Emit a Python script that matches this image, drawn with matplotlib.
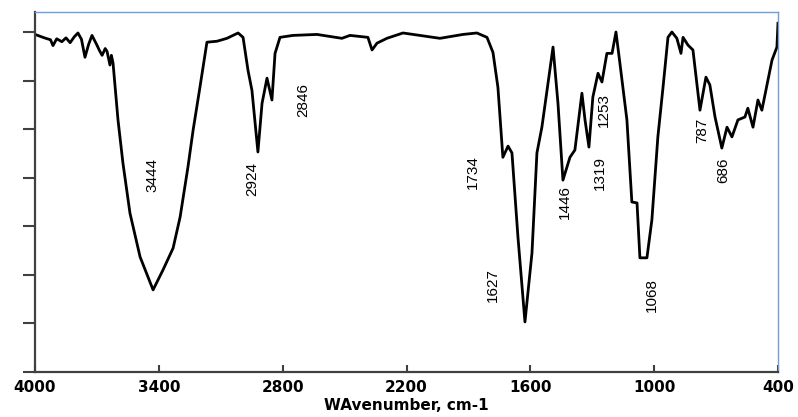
import numpy as np
import matplotlib
matplotlib.use("Agg")
import matplotlib.pyplot as plt

# IR spectrum (wavenumber, cm-1 / transmittance in axis units)
wavenumber = [4000, 3955, 3925, 3913, 3895, 3870, 3850, 3830, 3810, 3792, 3775,
              3758, 3740, 3724, 3700, 3688, 3675, 3660, 3651, 3637, 3630, 3622,
              3598, 3574, 3540, 3491, 3428, 3380, 3331, 3297, 3259, 3234, 3201,
              3167, 3118, 3070, 3016, 2992, 2968, 2949, 2920, 2900, 2876, 2852,
              2837, 2813, 2750, 2634, 2513, 2474, 2387, 2367, 2355, 2343, 2295, 2217,
              2038, 1926, 1859, 1810, 1781, 1757, 1733, 1708, 1689, 1660, 1626,
              1592, 1568, 1544, 1519, 1490, 1466, 1442, 1408, 1384, 1350, 1335,
              1316, 1297, 1272, 1253, 1229, 1204, 1185, 1166, 1132, 1108, 1083,
              1069, 1035, 1011, 982, 957, 933, 914, 890, 870, 860, 836, 812, 778,
              749, 730, 705, 672, 647, 623, 594, 560, 546, 521, 497, 478, 429,
              405, 400]
transmittance = [6.95, 6.88, 6.84, 6.72, 6.86, 6.80, 6.88, 6.78, 6.90, 6.98, 6.85,
                 6.48, 6.75, 6.93, 6.73, 6.62, 6.52, 6.66, 6.60, 6.32, 6.52, 6.36,
                 5.19, 4.30, 3.27, 2.37, 1.69, 2.10, 2.55, 3.19, 4.22, 4.98, 5.86,
                 6.79, 6.81, 6.87, 6.98, 6.89, 6.21, 5.80, 4.53, 5.53, 6.05, 5.60,
                 6.56, 6.89, 6.93, 6.95, 6.87, 6.93, 6.89, 6.63, 6.70, 6.77, 6.87, 6.98,
                 6.87, 6.95, 6.98, 6.89, 6.58, 5.86, 4.42, 4.65, 4.51, 2.78, 1.03,
                 2.45, 4.51, 5.04, 5.80, 6.69, 5.53, 3.95, 4.42, 4.57, 5.74, 5.19,
                 4.63, 5.66, 6.15, 5.97, 6.56, 6.56, 7.00, 6.36, 5.19, 3.50, 3.48,
                 2.35, 2.35, 3.13, 4.84, 5.86, 6.89, 7.00, 6.87, 6.56, 6.89, 6.73,
                 6.63, 5.39, 6.07, 5.91, 5.25, 4.61, 5.04, 4.84, 5.19, 5.25, 5.43,
                 5.04, 5.60, 5.39, 6.42, 6.69, 7.18]

# peak labels and where they sit
peak_labels = ["3444", "2924", "2846", "1734", "1446", "1319", "1253",
               "787", "686", "1627", "1068"]
label_x = [3433, 2949, 2702, 1878, 1432, 1263, 1243, 768, 667, 1781, 1011]
label_y = [4.05, 3.97, 5.60, 4.11, 3.50, 4.09, 5.39, 4.98, 4.16, 1.79, 1.58]

x_ticks = [4000, 3400, 2800, 2200, 1600, 1000, 400]

fig = plt.figure(figsize=(7.98, 4.17), dpi=100)
ax = fig.add_axes([0.0439, 0.108, 0.931, 0.863])

ax.plot(wavenumber, transmittance, color="black", lw=2.0, solid_joinstyle="round")

for lab, lx, ly in zip(peak_labels, label_x, label_y):
    ax.text(lx, ly, lab, rotation=90, ha="center", va="center", fontsize=11,
            family=["Liberation Sans", "DejaVu Sans"], color="black")

ax.set_xlim(4000, 400)
ax.set_ylim(0, 7.41)
ax.set_xticks(x_ticks)
ax.set_xticklabels([str(t) for t in x_ticks], fontsize=11, fontweight="bold")
ax.set_yticks(np.arange(0, 8))
ax.set_yticklabels([])
ax.tick_params(axis="x", direction="in", length=5, width=1.5, color="#404040", pad=6)
ax.tick_params(axis="y", direction="out", length=9, width=1.5, color="#404040")

for side in ["left", "bottom"]:
    ax.spines[side].set_color("#404040")
    ax.spines[side].set_linewidth(1.6)
for side in ["top", "right"]:
    ax.spines[side].set_color("#6f9fd8")
    ax.spines[side].set_linewidth(1.0)

ax.set_xlabel("WAvenumber, cm-1", fontsize=11, fontweight="bold", labelpad=2)

fig.savefig("out.png", dpi=100)
